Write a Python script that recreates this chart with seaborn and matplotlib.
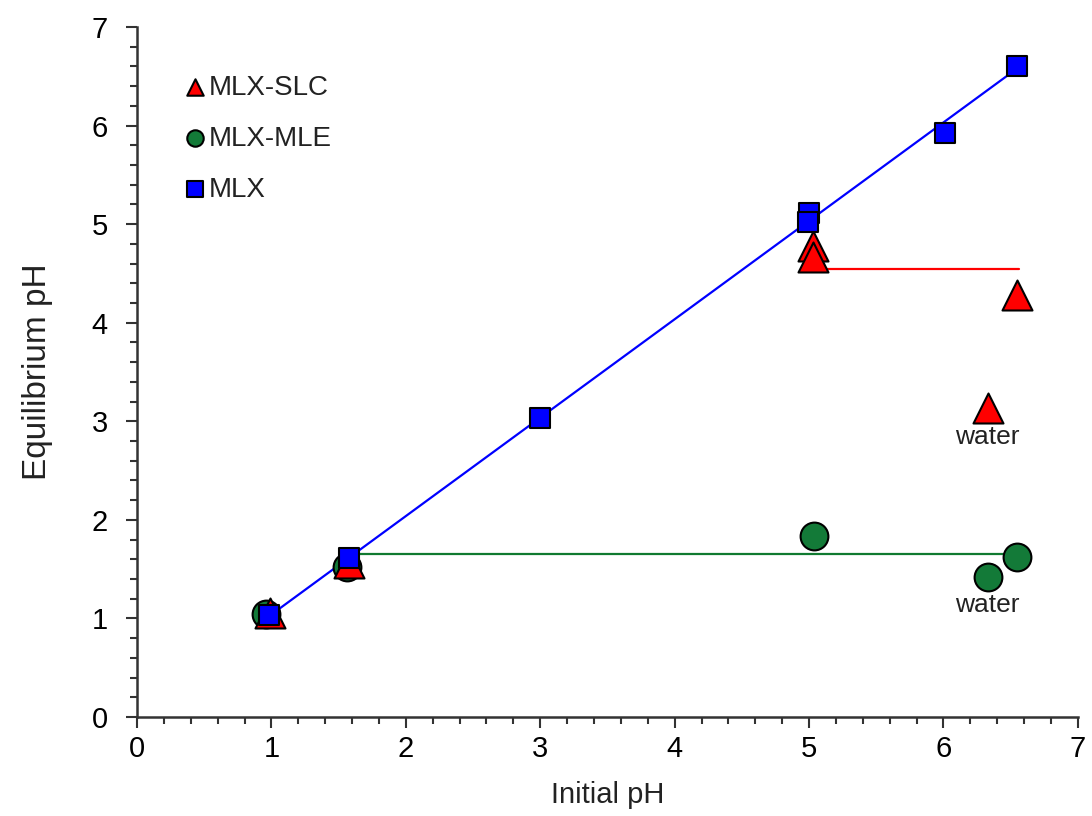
import numpy as np
import pandas as pd
import matplotlib
matplotlib.use("Agg")
import matplotlib.pyplot as plt
import matplotlib.ticker as ticker
import seaborn as sns

# MLX-SLC (triangles)
slc_x = [0.99, 1.58, 5.03, 5.03, 6.55, 6.33]
slc_y = [1.06, 1.56, 4.78, 4.67, 4.28, 3.13]
# MLX-MLE (circles)
mle_x = [0.96, 1.56, 5.04, 6.55, 6.33]
mle_y = [1.04, 1.52, 1.84, 1.62, 1.42]
# MLX (squares)
mlx_x = [0.98, 1.58, 3.00, 5.00, 4.99, 6.01, 6.55]
mlx_y = [1.03, 1.61, 3.03, 5.11, 5.02, 5.92, 6.60]

# guide lines
blue_x = [0.98, 6.55]
blue_y = [1.02, 6.58]
red_x = [4.95, 6.56]
red_y = [4.54, 4.54]
green_x = [1.64, 6.44]
green_y = [1.65, 1.65]

water_labels = [(6.33, 2.84), (6.33, 1.14)]

sns.set_style("ticks")
plt.rcParams['font.family'] = ['Liberation Sans', 'DejaVu Sans']

fig = plt.figure(figsize=(10.92, 8.16), dpi=100)
ax = fig.add_axes([0.1255, 0.1213, 0.8615, 0.8457])

slc = pd.DataFrame({'x': slc_x, 'y': slc_y})
mle = pd.DataFrame({'x': mle_x, 'y': mle_y})
mlx = pd.DataFrame({'x': mlx_x, 'y': mlx_y})

sns.lineplot(x=blue_x, y=blue_y, ax=ax, color='#0000ff', linewidth=1.6, zorder=2)
sns.lineplot(x=red_x, y=red_y, ax=ax, color='#ff0000', linewidth=1.6, zorder=2)
sns.lineplot(x=green_x, y=green_y, ax=ax, color='#107a30', linewidth=1.6, zorder=2)

edge = dict(edgecolor='black', linewidth=1.5)
sns.scatterplot(data=slc, x='x', y='y', ax=ax, marker='^', s=466,
                color='#ff0000', label='MLX-SLC', zorder=4, **edge)
sns.scatterplot(data=mle, x='x', y='y', ax=ax, marker='o', s=400,
                color='#137a38', label='MLX-MLE', zorder=3, **edge)
sns.scatterplot(data=mlx, x='x', y='y', ax=ax, marker='s', s=207,
                color='#0000ff', label='MLX', zorder=5, **edge)

for wx, wy in water_labels:
    ax.text(wx, wy, 'water', ha='center', va='center', fontsize=19,
            color='#222222')

ax.set_xlim(0, 7)
ax.set_ylim(0, 7)
ax.xaxis.set_major_locator(ticker.MultipleLocator(1))
ax.yaxis.set_major_locator(ticker.MultipleLocator(1))
ax.xaxis.set_minor_locator(ticker.AutoMinorLocator(5))
ax.yaxis.set_minor_locator(ticker.AutoMinorLocator(5))
ax.tick_params(which='major', direction='out', length=8, width=1.5,
               labelsize=21, color='#333333', labelcolor='black')
ax.tick_params(axis='y', which='major', pad=13)
ax.tick_params(axis='x', which='major', pad=5)
ax.tick_params(which='minor', direction='out', length=5, width=1.5,
               color='#333333')

ax.set_xlabel('Initial pH', fontsize=21, color='#222222', labelpad=13)
ax.set_ylabel('Equilibrium pH', fontsize=24, color='#222222', labelpad=28)

sns.despine(ax=ax)
for side in ['left', 'bottom']:
    ax.spines[side].set_linewidth(1.8)
    ax.spines[side].set_color('#333333')

leg = ax.legend(loc='upper left', bbox_to_anchor=(0.038, 0.947), frameon=False,
                fontsize=20, handletextpad=0.1, labelspacing=0.9,
                handlelength=0.8, borderaxespad=0)
for h in leg.legend_handles:
    h.set_sizes([140])
for t in leg.get_texts():
    t.set_color('#222222')

fig.savefig('out.png', dpi=100)
